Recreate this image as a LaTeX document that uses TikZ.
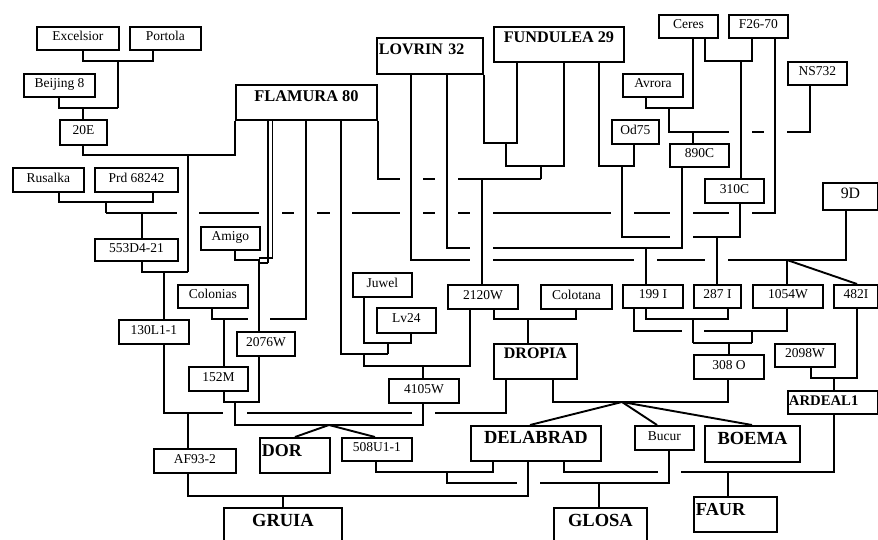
\documentclass[tikz,border=0pt]{standalone}
\usepackage{fontspec}
\setmainfont{Liberation Serif}
\newcommand\bx[7][]{\node[box,minimum width={#5-#3},minimum height={#6-#4},#1] (#2) at (#3,#4) {#7};}
\begin{document}
\begin{tikzpicture}[x=1pt,y=-1pt,line width=1.9pt,line join=miter,
  box/.style={draw,inner sep=0pt,anchor=north west,font=\fontsize{13.5}{16}\selectfont,text height=8pt,text depth=3pt},
  hb/.style={font=\bfseries\fontsize{#1}{20}\selectfont}]
\useasboundingbox (0,0) rectangle (878,540);
% boxes
\bx{exc}{36}{26}{118}{49}{Excelsior}
\bx{por}{129}{26}{200}{49}{Portola}
\bx{bei}{23}{73}{94}{96}{Beijing 8}
\bx{e20}{59}{119}{106}{144}{20E}
\bx[hb=16.4,text height=12pt,text depth=13pt]{flam}{235}{84}{376}{119}{FLAMURA 80}
\bx[hb=16,text height=12pt,text depth=14pt,text width=102pt,align=left]{lov}{376}{37}{482}{73}{LOVRIN 32}
\bx[hb=16.2,text height=12pt,text depth=15pt]{fun}{493}{26}{623}{61}{FUNDULEA 29}
\bx{cer}{658}{14}{717}{37}{Ceres}
\bx{f26}{728}{14}{787}{37}{F26-70}
\bx{ns}{787}{61}{846}{84}{NS732}
\bx{avr}{622}{73}{682}{96}{Avrora}
\bx{od}{611}{119}{658}{143}{Od75}
\bx{c890}{669}{143}{728}{166}{890C}
\bx{c310}{704}{178}{763}{202}{310C}
\bx[font=\fontsize{15.8}{18}\selectfont,text height=10pt,text depth=5pt]{d9}{822}{182}{877}{209}{9D}
\bx{rus}{12}{167}{83}{191}{Rusalka}
\bx{prd}{94}{167}{177}{191}{Prd 68242}
\bx{d553}{94}{238}{177}{260}{553D4-21}
\bx{ami}{200}{226}{259}{249}{Amigo}
\bx{col}{177}{284}{247}{307}{Colonias}
\bx{l130}{118}{319}{188}{343}{130L1-1}
\bx{w2076}{236}{331}{294}{355}{2076W}
\bx{m152}{188}{366}{247}{390}{152M}
\bx{juw}{352}{272}{411}{296}{Juwel}
\bx{lv}{376}{307}{435}{332}{Lv24}
\bx{w2120}{447}{284}{517}{308}{2120W}
\bx{cot}{540}{284}{611}{308}{Colotana}
\bx{i199}{622}{284}{682}{307}{199 I}
\bx{i287}{693}{284}{740}{307}{287 I}
\bx{w1054}{752}{284}{822}{307}{1054W}
\bx{i482}{833}{284}{877}{307}{482I}
\bx[hb=16,text height=11pt,text depth=16pt]{drop}{493}{343}{576}{378}{DROPIA}
\bx{w4105}{388}{378}{458}{402}{4105W}
\bx{o308}{693}{354}{763}{378}{308 O}
\bx{w2098}{774}{343}{834}{366}{2098W}
\bx[hb=14.7,text height=11pt,text depth=4pt,text width=88pt,align=left]{ard}{787}{390}{877}{413}{ARDEAL1}
\bx{af}{153}{448}{235}{472}{AF93-2}
\bx[hb=18,text height=13pt,text depth=10pt,text width=66pt,align=left]{dor}{259}{437}{329}{472}{DOR}
\bx{u508}{341}{437}{411}{460}{508U1-1}
\bx[hb=18.5,text height=13pt,text depth=12pt]{dela}{470}{425}{600}{460}{DELABRAD}
\bx{buc}{634}{425}{693}{449}{Bucur}
\bx[hb=18.5,text height=13pt,text depth=11pt]{boe}{704}{425}{799}{461}{BOEMA}
\bx[hb=18.3,text height=13pt,text depth=10pt,text width=79pt,align=left]{faur}{693}{496}{776}{531}{FAUR}
\bx[hb=18.5,text height=12pt,text depth=15pt]{gru}{223}{507}{341}{548}{GRUIA}
\bx[hb=18.5,text height=12pt,text depth=15pt]{glo}{553}{507}{646}{548}{GLOSA}
% connectors
\draw (exc.south -| 83,0) |- (153,61) -- (por.south -| 153,0);
\draw (118,61) -- (118,108);
\draw (bei.south -| 59,0) |- (118,108);
\draw (83,108) -- (e20.north -| 83,0);
\draw (e20.south -| 83,0) |- (235,155) -- (flam.south west);
\draw (188,155) -- (188,272);
\draw (rus.south -| 59,0) |- (153,202) -- (prd.south -| 153,0);
\draw (106,202) -- (106,213);
% y=213 line to F26-70
\draw (106,213) -- (177,213);
\draw (199,213) -- (259,213);
\draw (282,213) -- (294,213);
\draw (317,213) -- (330,213);
\draw (352,213) -- (400,213);
\draw (423,213) -- (435,213);
\draw (458,213) -- (470,213);
\draw (493,213) -- (611,213);
\draw (634,213) -- (670,213);
\draw (693,213) -- (729,213);
\draw (752,213) -| (f26.south -| 775,0);
\draw (142,213) -- (d553.north -| 142,0);
\draw (d553.south -| 142,0) |- (188,272);
\draw (164,272) -- (l130.north -| 164,0);
% Amigo x FLAMURA (double line)
\draw (flam.south -| 268,0) -- (268,263);
\draw (flam.south -| 272.5,0) -- (272.5,258);
\draw (259,258) -- (272.5,258);
\draw (259,263) -- (268,263);
\draw (ami.south -| 235,0) |- (259,260) -- (w2076.north -| 259,0);
% Colonias x FLAMURA
\draw (col.south -| 212,0) |- (248,319);
\draw (270,319) -| (flam.south -| 306,0);
\draw (224,319) -- (m152.north -| 224,0);
\draw (m152.south -| 224,0) |- (259,402) -- (w2076.south -| 259,0);
\draw (235,402) |- (423,425) -- (w4105.south -| 423,0);
\draw (329,425) -- (dor.north -| 295,0);
\draw (329,425) -- (u508.north -| 375,0);
% 130L1-1 x DROPIA
\draw (l130.south -| 164,0) |- (223,413);
\draw (247,413) -- (412,413);
\draw (435,413) -| (drop.south -| 506,0);
\draw (188,413) -- (af.north -| 188,0);
% Juwel x Lv24
\draw (juw.south -| 364,0) |- (411,343) -- (lv.south -| 411,0);
\draw (388,343) -- (388,354);
\draw (flam.south -| 341,0) |- (388,354);
\draw (364,354) -- (364,366) -| (w2120.south -| 470,0);
\draw (423,366) -- (w4105.north -| 423,0);
% 2120W x Colotana
\draw (w2120.south -| 494,0) |- (576,319) -- (cot.south -| 576,0);
\draw (528,319) -- (drop.north -| 528,0);
% LOVRIN x FUNDULEA
\draw (lov.south east) |- (517,143) -- (fun.south -| 517,0);
\draw (506,143) |- (564,166) -- (fun.south -| 564,0);
\draw (541,166) -- (541,179);
\draw (flam.south east) |- (400,179);
\draw (423,179) -- (435,179);
\draw (458,179) -- (541,179);
\draw (482,179) -- (w2120.north -| 482,0);
% LOVRIN x 9D
\draw (lov.south -| 411,0) |- (470,260);
\draw (493,260) -- (634,260);
\draw (657,260) -- (705,260);
\draw (728,260) -| (d9.south -| 846,0);
\draw (787,260) -- (w1054.north -| 787,0);
\draw (787,260) -- (i482.north -| 857,0);
% LOVRIN x 890C
\draw (lov.south -| 447,0) |- (470,248);
\draw (493,248) -| (c890.south -| 682,0);
\draw (646,248) -- (i199.north -| 646,0);
% FUNDULEA x Od75, x 310C
\draw (fun.south -| 599,0) |- (634,166) -- (od.south -| 634,0);
\draw (622,166) |- (670,237);
\draw (693,237) -| (c310.south -| 740,0);
\draw (717,237) -- (i287.north -| 717,0);
% Avrora x Ceres x NS732
\draw (avr.south -| 646,0) |- (693,108) -- (cer.south -| 693,0);
\draw (669,108) |- (729,132);
\draw (752,132) -- (764,132);
\draw (787,132) -| (ns.south -| 810,0);
\draw (693,132) -- (c890.north -| 693,0);
% Ceres x F26-70
\draw (cer.south -| 705,0) |- (752,61) -- (f26.south -| 752,0);
\draw (741,61) -- (c310.north -| 741,0);
% 308 O
\draw (i199.south -| 646,0) |- (728,319) -- (i287.south -| 728,0);
\draw (693,319) -- (693,343);
\draw (i199.south -| 634,0) |- (682,331);
\draw (704,331) -| (w1054.south -| 787,0);
\draw (752,331) -- (752,343);
\draw (693,343) -- (752,343);
\draw (729,343) -- (o308.north -| 729,0);
% DROPIA x 308 O
\draw (drop.south -| 553,0) |- (728,402) -- (o308.south -| 728,0);
\draw (622,402) -- (dela.north -| 530,0);
\draw (622,402) -- (buc.north -| 657,0);
\draw (622,402) -- (boe.north -| 752,0);
% ARDEAL1
\draw (w2098.south -| 811,0) |- (857,378) -- (i482.south -| 857,0);
\draw (834,378) -- (ard.north -| 834,0);
% GRUIA
\draw (af.south -| 188,0) |- (528,496) -- (dela.south -| 528,0);
\draw (283,496) -- (gru.north -| 283,0);
% GLOSA
\draw (u508.south -| 376,0) |- (493,472) -- (dela.south -| 493,0);
\draw (447,472) |- (517,483);
\draw (540,483) -| (buc.south -| 669,0);
\draw (599,483) -- (glo.north -| 599,0);
% FAUR
\draw (dela.south -| 564,0) |- (658,472);
\draw (681,472) -| (ard.south -| 834,0);
\draw (728,472) -- (faur.north -| 728,0);
\end{tikzpicture}
\end{document}
